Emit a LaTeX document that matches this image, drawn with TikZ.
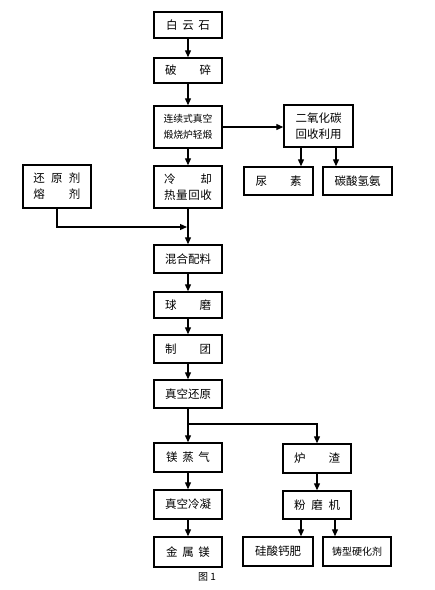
\documentclass[tikz,border=0pt]{standalone}
\usepackage{fontspec}
\newfontfamily\cjk{Noto Sans CJK SC}
\usetikzlibrary{arrows.meta,calc}
\newcommand\myspread[2]{\makebox[#1pt][s]{#2}}
\begin{document}
\begin{tikzpicture}[x=1pt,y=-1pt,
  box/.style={draw,line width=1.4pt,inner sep=0pt,font=\cjk\fontsize{11.5}{16}\selectfont,align=center,minimum width=68pt},
  arr/.style={line width=1.2pt,-{Triangle[length=7pt,width=6pt]}},
  ln/.style={line width=1.2pt}]
\useasboundingbox (0,0) rectangle (435,590);
% main column
\node[box,minimum height=26pt] (bys) at (188,25) {\myspread{44}{白\hfill 云\hfill 石}};
\node[box,minimum height=25pt] (ps) at (188,70.5) {\myspread{46}{破\hfill 碎}};
\node[box,minimum height=42pt,font=\cjk\fontsize{9.8}{15.5}\selectfont] (lx) at (188,127) {连续式真空\\煅烧炉轻煅};
\node[box,minimum height=42pt] (lq) at (188,187) {\myspread{48}{冷\hfill 却}\\\myspread{48}{热\hfill 量\hfill 回\hfill 收}};
\node[box,minimum height=28pt] (hh) at (188,259) {混合配料};
\node[box,minimum height=26pt] (qm) at (188,305) {\myspread{46}{球\hfill 磨}};
\node[box,minimum height=28pt] (zt) at (188,349) {\myspread{46}{制\hfill 团}};
\node[box,minimum height=28pt] (zk) at (188,394) {真空还原};
\node[box,minimum height=29pt] (mz) at (188,457.5) {\myspread{44}{镁\hfill 蒸\hfill 气}};
\node[box,minimum height=29pt] (zl) at (188,504.5) {真空冷凝};
\node[box,minimum height=30pt] (jm) at (188,552) {\myspread{44}{金\hfill 属\hfill 镁}};
% left
\node[box,minimum height=43pt] (hy) at (57,186.5) {\myspread{47}{还\hfill 原\hfill 剂}\\\myspread{47}{熔\hfill 剂}};
% CO2 branch
\node[box,minimum height=42pt,minimum width=69pt] (eo) at (318.5,126) {二氧化碳\\回收利用};
\node[box,minimum height=28pt,minimum width=69pt] (ns) at (278.5,181) {\myspread{46}{尿\hfill 素}};
\node[box,minimum height=28pt,minimum width=69pt] (tq) at (357.5,181) {碳酸氢氨};
% slag branch
\node[box,minimum height=29pt] (lz) at (317,458.5) {\myspread{46}{炉\hfill 渣}};
\node[box,minimum height=28pt] (fm) at (317,505) {\myspread{46}{粉\hfill 磨\hfill 机}};
\node[box,minimum height=29pt,minimum width=70pt] (gs) at (278,551.5) {硅酸钙肥};
\node[box,minimum height=29pt] (zx) at (357,551.5) {\fontsize{10}{12}\selectfont 铸型硬化剂};
% caption
\node[font=\cjk\fontsize{10}{10}\selectfont] (cap) at (207,577) {图 1};
% coordinates
\coordinate (j1) at (188,227);
\coordinate (j2) at (188,424);
\coordinate (c1) at (301,0);
\coordinate (c2) at (336,0);
\coordinate (d1) at (301,0);
\coordinate (d2) at (335,0);
% connectors
\draw[arr] (bys) -- (ps);
\draw[arr] (ps) -- (lx);
\draw[arr] (lx.east) -- (lx.east -| eo.west);
\draw[arr] (lx) -- (lq);
\draw[arr] (lq) -- (hh);
\draw[arr,shorten >=1pt] (hy.south) |- (j1);
\draw[arr] (hh) -- (qm);
\draw[arr] (qm) -- (zt);
\draw[arr] (zt) -- (zk);
\draw[arr] (zk) -- (mz);
\draw[arr] (j2) -| (lz.north);
\draw[arr] (mz) -- (zl);
\draw[arr] (zl) -- (jm);
\draw[arr] (lz) -- (fm);
\draw[arr] (eo.south -| c1) -- (ns.north -| c1);
\draw[arr] (eo.south -| c2) -- (tq.north -| c2);
\draw[arr] (fm.south -| d1) -- (gs.north -| d1);
\draw[arr] (fm.south -| d2) -- (zx.north -| d2);
\end{tikzpicture}
\end{document}
